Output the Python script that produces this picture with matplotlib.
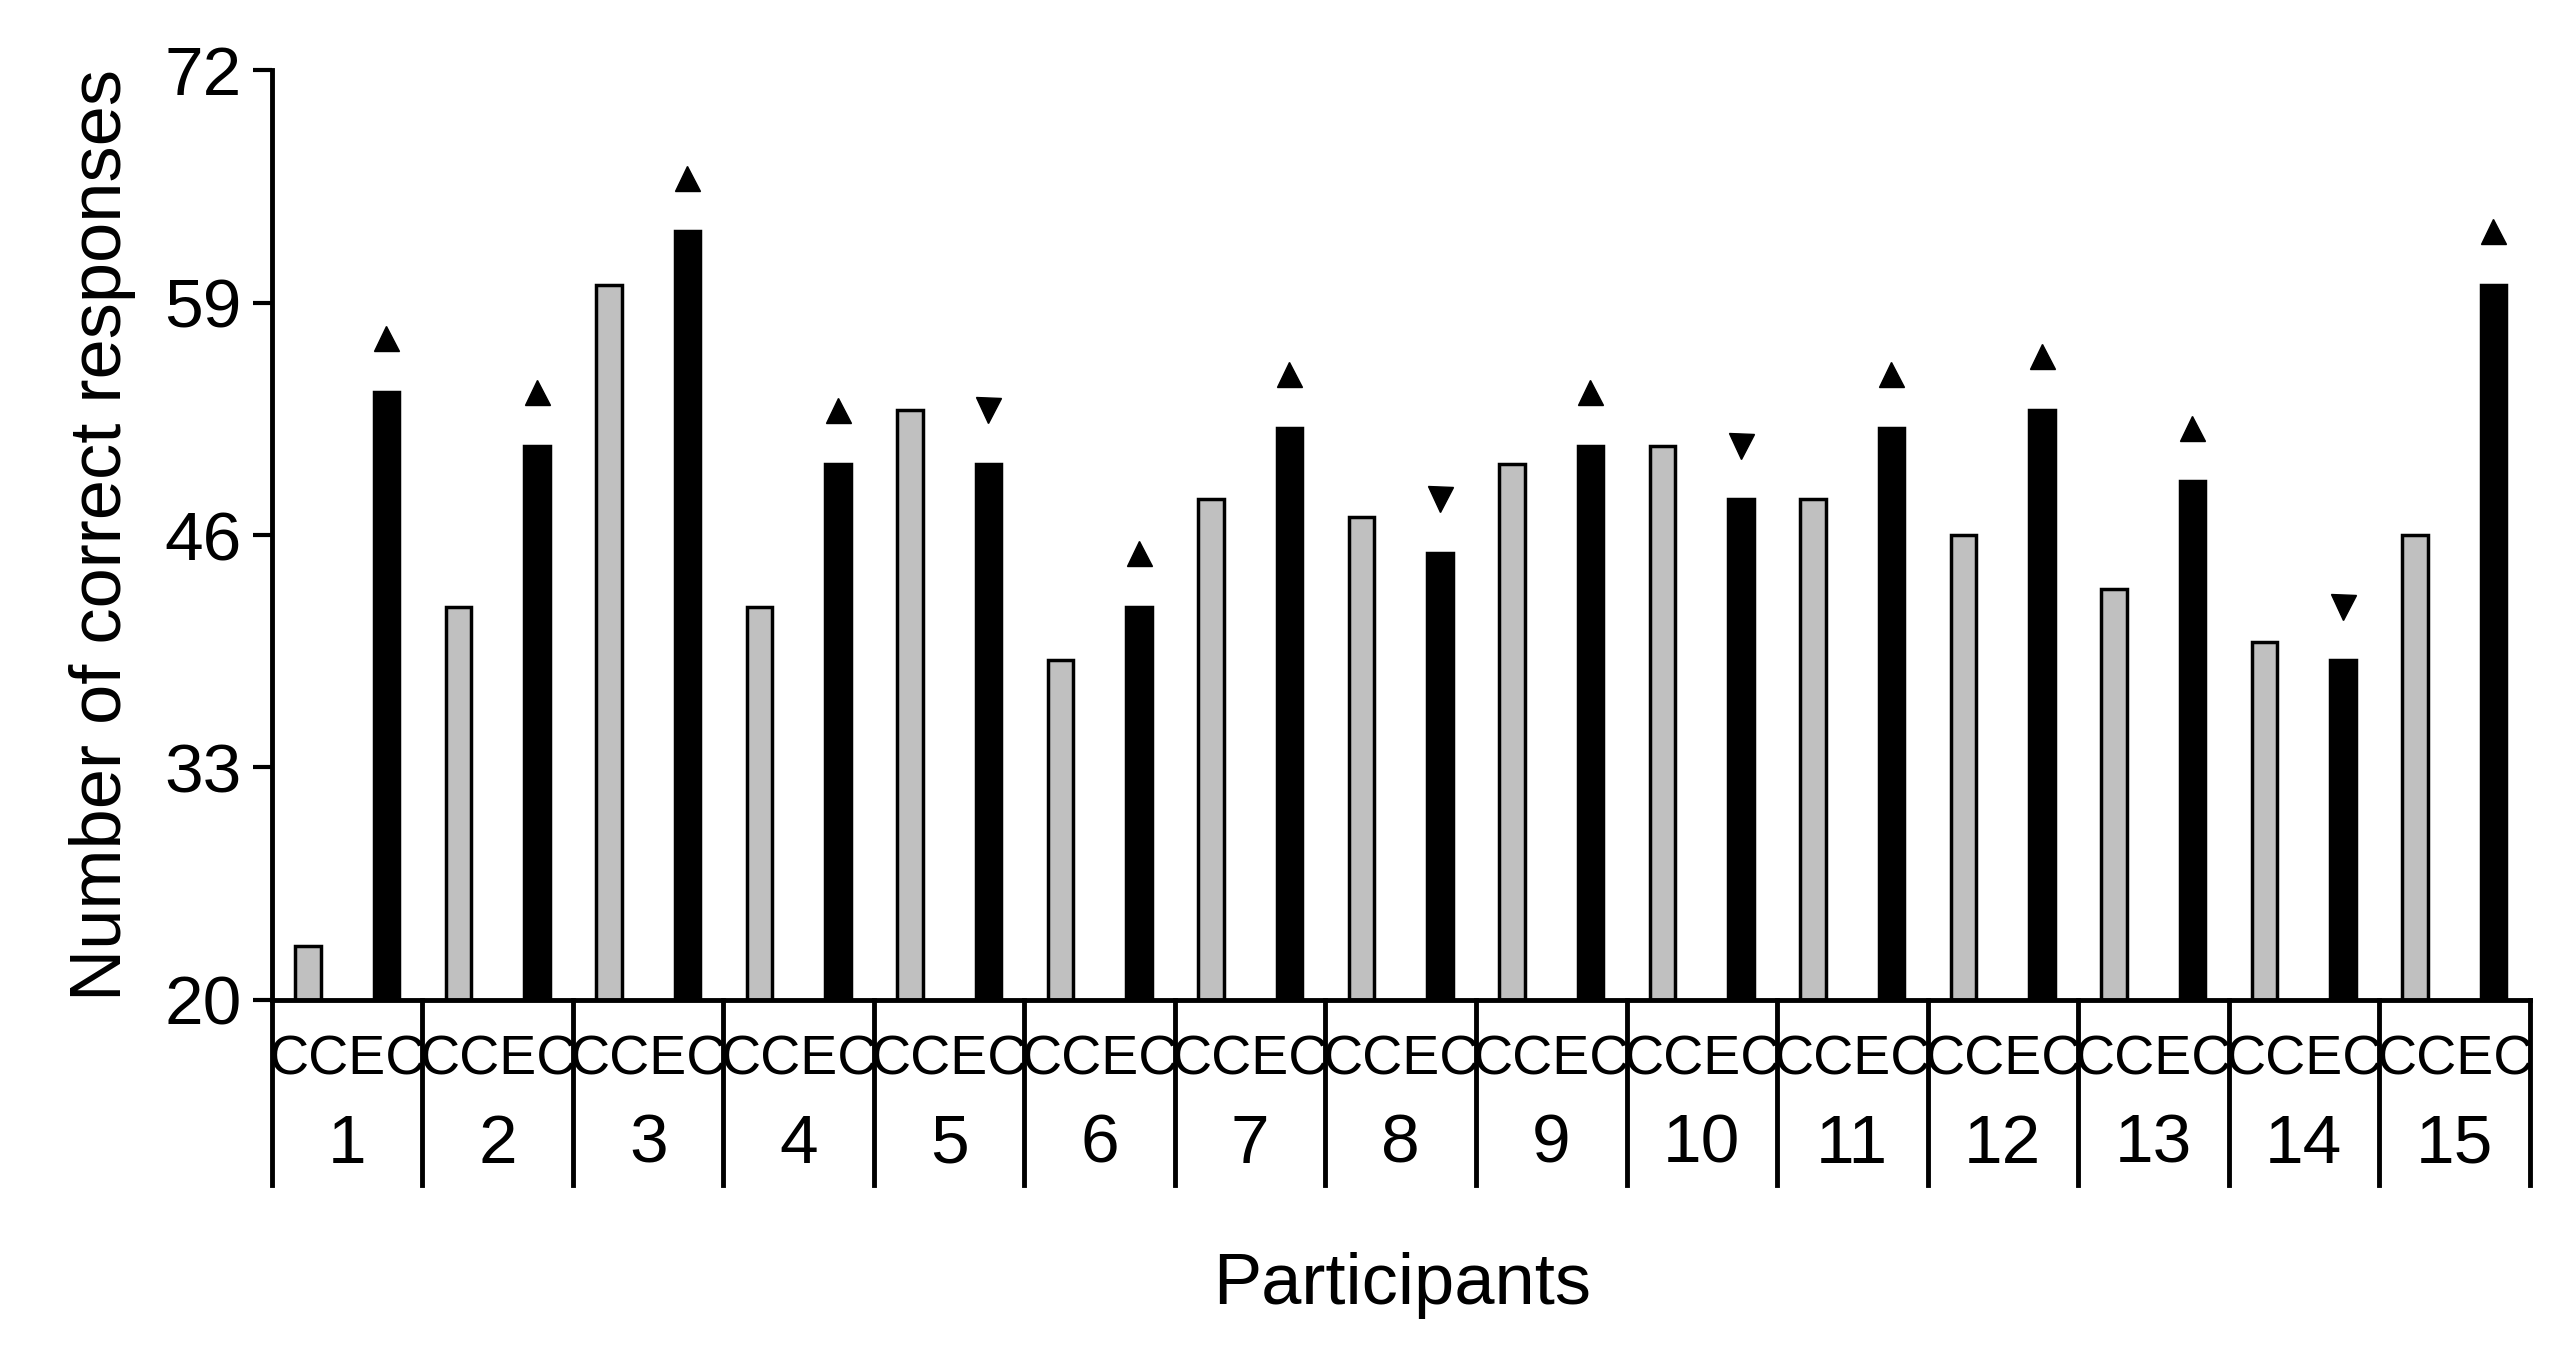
import matplotlib.pyplot as plt
import numpy as np

plt.rcParams['font.family'] = ['Liberation Sans', 'DejaVu Sans']

participants = [str(i) for i in range(1, 16)]
cc_values = [23, 42, 60, 42, 53, 39, 48, 47, 50, 51, 48, 46, 43, 40, 46]
ec_values = [54, 51, 63, 50, 50, 42, 52, 45, 51, 48, 52, 53, 49, 39, 60]
direction = ['up', 'up', 'up', 'up', 'down', 'up', 'up', 'down', 'up', 'down',
             'up', 'up', 'up', 'down', 'up']
yticks = [20, 33, 46, 59, 72]

fig = plt.figure(figsize=(25.51, 13.53), dpi=100)
ax = fig.add_axes([0.1066, 0.261, 0.885, 0.687])

x = np.arange(len(participants))
w = 0.17
ax.bar(x + 0.24, np.array(cc_values) - 20, w, bottom=20, color='#c0c0c0',
       edgecolor='black', linewidth=2.5)
ax.bar(x + 0.76, np.array(ec_values) - 20, w, bottom=20, color='black',
       edgecolor='black', linewidth=2.5)

for xi, v, d in zip(x, ec_values, direction):
    ax.plot(xi + 0.76, v + 3.0, marker='^' if d == 'up' else 'v',
            color='black', markersize=18, linestyle='none')

ax.set_xlim(0, len(participants))
ax.set_ylim(20, 72)
ax.set_yticks(yticks)
ax.set_xticks([])
ax.tick_params(axis='y', labelsize=50, width=3, length=14, direction='out', pad=8)
for s in ['top', 'right']:
    ax.spines[s].set_visible(False)
for s in ['left', 'bottom']:
    ax.spines[s].set_linewidth(3.5)

trans = ax.get_xaxis_transform()
for i in range(len(participants) + 1):
    ax.plot([i, i], [0, -0.199], color='black', linewidth=3.5,
            transform=trans, clip_on=False)
for i, p in enumerate(participants):
    ax.text(i + 0.5, -0.065, 'CCEC', fontsize=40, ha='center', va='center',
            transform=trans)
    ax.text(i + 0.5, -0.156, p, fontsize=50, ha='center', va='center',
            transform=trans)

ax.set_ylabel('Number of correct responses', fontsize=52, labelpad=20)
fig.text(0.5495, 0.05, 'Participants', fontsize=52, ha='center', va='center')

fig.savefig('out.png', dpi=100)
